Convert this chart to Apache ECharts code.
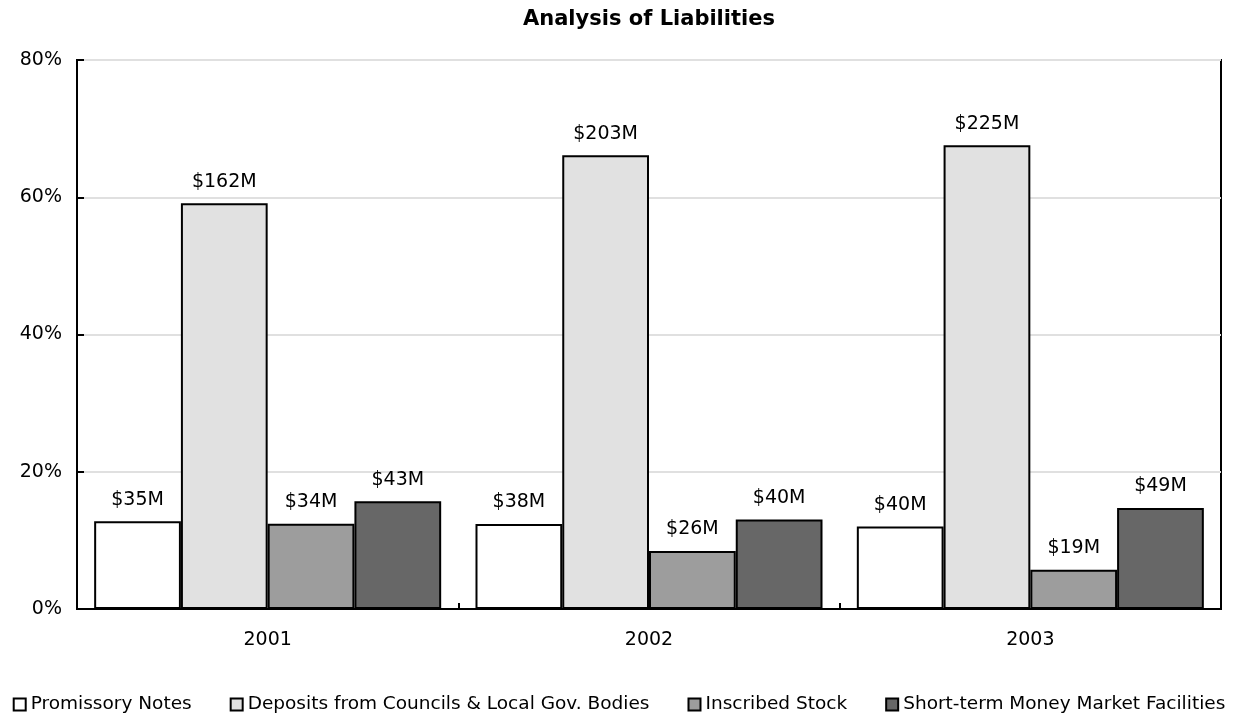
<!DOCTYPE html>
<html>
<head>
<meta charset="utf-8">
<title>Analysis of Liabilities</title>
<script src="https://cdn.jsdelivr.net/npm/echarts@6/dist/echarts.min.js"></script>
<style>
  html, body { margin: 0; padding: 0; background: #fff; }
  #chart { width: 1238px; height: 715px; }
</style>
</head>
<body>
<div id="chart"></div>
<script>
// Years shown on the category axis
const years = ['2001', '2002', '2003'];

// Liabilities by type, in $M per year
const promissoryNotes = [35, 38, 40];
const councilDeposits = [162, 203, 225];
const inscribedStock = [34, 26, 19];
const moneyMarket = [43, 40, 49];

const seriesNames = [
  'Promissory Notes',
  'Deposits from Councils & Local Gov. Bodies',
  'Inscribed Stock',
  'Short-term Money Market Facilities'
];
const seriesAmounts = [promissoryNotes, councilDeposits, inscribedStock, moneyMarket];
const seriesColors = ['#ffffff', '#e1e1e1', '#9d9d9d', '#676767'];

// Y axis ticks (percent of total liabilities)
const yTicks = [0, 20, 40, 60, 80];

// Each bar's height is its share of that year's total
const yearTotals = years.map((_, i) =>
  seriesAmounts.reduce((sum, arr) => sum + arr[i], 0));

const FONT = '"DejaVu Sans", Verdana, sans-serif';

const GRID = { left: 77, right: 17, top: 60, bottom: 106 };
const CHART_W = 1238;
// horizontal centre of the plot area, used for the title
const plotCenterX = GRID.left + (CHART_W - GRID.left - GRID.right) / 2;

const series = seriesNames.map((name, s) => ({
  name: name,
  type: 'bar',
  barGap: '0%',
  barCategoryGap: '9%',
  data: seriesAmounts[s].map((amt, i) => ({
    value: amt / yearTotals[i] * 100,
    amount: amt
  })),
  itemStyle: {
    color: seriesColors[s],
    borderColor: '#000',
    borderWidth: 2
  },
  label: {
    show: true,
    position: 'top',
    distance: 12,
    color: '#000',
    fontFamily: FONT,
    fontSize: 19,
    formatter: p => '$' + p.data.amount + 'M'
  }
}));

const chart = echarts.init(document.getElementById('chart'), null, { renderer: 'canvas' });
chart.setOption({
  animation: false,
  backgroundColor: '#fff',
  title: {
    text: 'Analysis of Liabilities',
    left: plotCenterX - 5,
    textAlign: 'center',
    top: 4,
    textStyle: { fontFamily: FONT, fontSize: 21, fontWeight: 'bold', color: '#000' }
  },
  grid: Object.assign({
    show: true,
    borderColor: '#000',
    borderWidth: 2
  }, GRID),
  legend: {
    top: 690,
    left: 'center',
    itemGap: 38,
    itemWidth: 12,
    itemHeight: 12,
    icon: 'rect',
    itemStyle: { borderColor: '#000', borderWidth: 2 },
    textStyle: { fontFamily: FONT, fontSize: 18.5, color: '#000' },
    data: seriesNames
  },
  xAxis: {
    type: 'category',
    data: years,
    axisLine: { show: true, lineStyle: { color: '#000', width: 2 } },
    axisTick: { show: true, inside: true, length: 6, lineStyle: { color: '#000', width: 2 } },
    axisLabel: { color: '#000', fontFamily: FONT, fontSize: 19, margin: 22 }
  },
  yAxis: {
    type: 'value',
    min: yTicks[0],
    max: yTicks[yTicks.length - 1],
    interval: yTicks[1] - yTicks[0],
    axisLine: { show: true, lineStyle: { color: '#000', width: 2 } },
    axisTick: { show: true, inside: true, length: 7, lineStyle: { color: '#000', width: 2 } },
    axisLabel: { color: '#000', fontFamily: FONT, fontSize: 19, margin: 15, formatter: '{value}%' },
    splitLine: { show: true, lineStyle: { color: '#e0e0e0', width: 2 } }
  },
  series: series
});
</script>
</body>
</html>
